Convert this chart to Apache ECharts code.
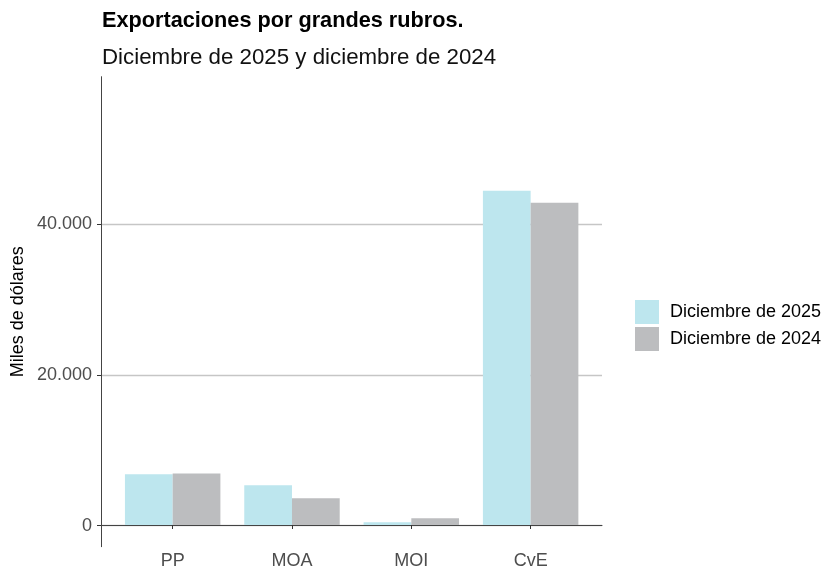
<!DOCTYPE html>
<html>
<head>
<meta charset="utf-8">
<script src="https://cdn.jsdelivr.net/npm/echarts@6/dist/echarts.min.js"></script>
<style>
  html, body { margin: 0; padding: 0; background: #fff; }
  #chart { width: 828px; height: 570px; }
</style>
</head>
<body>
<div id="chart"></div>
<script>
// datos
var rubros = ['PP', 'MOA', 'MOI', 'CvE'];
var dic2025 = [6730, 5270, 360, 44420];
var dic2024 = [6860, 3540, 890, 42830];
var nombres = ['Diciembre de 2025', 'Diciembre de 2024'];
var yTicks = [0, 20000, 40000];

var yMin = -2790, yMax = 59590;
var fuente = 'Liberation Sans, Arial, sans-serif';

function miles(v) {
    return String(v).replace(/\B(?=(\d{3})+(?!\d))/g, '.');
}

var chart = echarts.init(document.getElementById('chart'));
var option = {
    backgroundColor: '#fff',
    animation: false,
    textStyle: { fontFamily: fuente },
    title: [
        { text: 'Exportaciones por grandes rubros.', left: 102, top: 10, padding: 0,
          textStyle: { fontSize: 21.7, fontWeight: 'bold', color: '#000', fontFamily: fuente } },
        { text: 'Diciembre de 2025 y diciembre de 2024', left: 102, top: 47, padding: 0,
          textStyle: { fontSize: 22.3, fontWeight: 'normal', color: '#111', fontFamily: fuente } }
    ],
    legend: {
        orient: 'vertical', left: 635, top: 300, padding: 0,
        itemWidth: 24, itemHeight: 24, itemGap: 3, icon: 'rect',
        data: nombres,
        textStyle: { fontSize: 18, color: '#000', padding: [0, 0, 0, 6] }
    },
    grid: [
        { left: 113, top: 76.7, width: 477.3, height: 449 },
        { left: 101, top: 76.7, width: 501, height: 449 },
        { left: 101, top: 76.7, width: 501, height: 470 }
    ],
    xAxis: [
        { type: 'category', gridIndex: 0, data: rubros, offset: 21,
          axisLine: { show: false },
          axisTick: { show: true, alignWithLabel: true, length: 4, lineStyle: { color: '#333' } },
          axisLabel: { color: '#4d4d4d', fontSize: 18, margin: 6 } },
        { type: 'value', gridIndex: 1, min: 0, max: 1, show: false },
        { type: 'value', gridIndex: 2, min: 0, max: 1,
          axisLine: { show: true, lineStyle: { color: '#444', width: 1 } },
          axisTick: { show: false }, axisLabel: { show: false }, splitLine: { show: false } }
    ],
    yAxis: [
        { type: 'value', gridIndex: 0, min: 0, max: yMax, show: false },
        { type: 'value', gridIndex: 1, min: 0, max: yMax, interval: 20000,
          axisLine: { show: false },
          axisTick: { show: true, length: 4, lineStyle: { color: '#333' } },
          axisLabel: { color: '#4d4d4d', fontSize: 18, margin: 9, showMaxLabel: false,
                       formatter: function (v) { return yTicks.indexOf(v) >= 0 ? miles(v) : ''; } },
          splitLine: { show: true, showMaxLine: false, lineStyle: { color: '#c6c6c6', width: 1.4 } } },
        { type: 'value', gridIndex: 2, min: yMin, max: yMax,
          name: 'Miles de dólares', nameLocation: 'middle', nameGap: 74, nameRotate: 90,
          nameTextStyle: { fontSize: 18, color: '#000' },
          axisLine: { show: true, lineStyle: { color: '#444', width: 1 } },
          axisTick: { show: false }, axisLabel: { show: false }, splitLine: { show: false } }
    ],
    series: [
        { name: nombres[0], type: 'bar', xAxisIndex: 0, yAxisIndex: 0, data: dic2025,
          itemStyle: { color: '#bde6ee' }, barGap: '0%', barCategoryGap: '20%' },
        { name: nombres[1], type: 'bar', xAxisIndex: 0, yAxisIndex: 0, data: dic2024,
          itemStyle: { color: '#bcbdbf' }, barGap: '0%', barCategoryGap: '20%' }
    ]
};
chart.setOption(option);
</script>
</body>
</html>
